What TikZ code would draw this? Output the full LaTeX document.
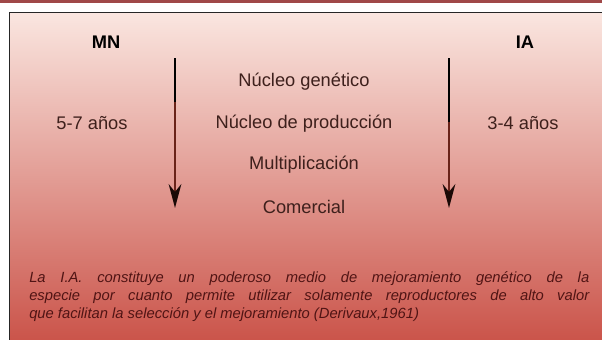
\documentclass[tikz,border=0pt]{standalone}
\usepackage{fontspec}
\setmainfont{Liberation Sans}
\usetikzlibrary{arrows.meta}

\definecolor{boxtop}{RGB}{250,230,224}
\definecolor{boxmid}{RGB}{232,152,142}
\definecolor{boxbot}{RGB}{202,82,72}
\definecolor{inkbrown}{RGB}{62,32,28}
\definecolor{arrowred}{RGB}{105,35,25}
\definecolor{noteink}{RGB}{80,20,20}
\definecolor{stripered}{RGB}{160,72,72}

\begin{document}
\begin{tikzpicture}[x=0.25mm,y=-0.25mm,
  stage/.style={text=inkbrown,font=\fontsize{13}{15}\selectfont},
  head/.style={text=black,font=\fontsize{13}{15}\selectfont\bfseries},
  flow/.style={line width=1.5pt,draw=arrowred,-{Stealth[length=17pt,width=9pt,color=black!75!arrowred]}},
  note/.style={text=noteink,font=\fontsize{10.5}{12.8}\selectfont\itshape,
    text width=140mm,align=justify,inner sep=0pt}]
\useasboundingbox (0,0) rectangle (602,340);
\fill[white] (0,0) rectangle (602,340);
\fill[stripered] (0,0) rectangle (602,2.5);

% shaded panel
\shade[top color=boxtop,middle color=boxmid,bottom color=boxbot] (9.5,12.5) rectangle (612,345);
\draw[line width=1.2pt,black!85] (9.5,345) -- (9.5,12.5) -- (612,12.5);

% column heads
\node[head] (mn) at (106,42) {MN};
\node[head] (ia) at (525,42) {IA};

% stages
\foreach \lbl/\yy [count=\k] in {Núcleo genético/82,Núcleo de producción/124,Multiplicación/165,Comercial/207}{
  \node[stage] (stage\k) at (304,\yy) {\lbl};
}
\node[stage] (mnyears) at (92,123) {5-7 años};
\node[stage] (iayears) at (523,123) {3-4 años};

% arrows
\coordinate (mntop) at (175,58);
\coordinate (mnend) at (175,208);
\coordinate (iatop) at (449,58);
\coordinate (iaend) at (449,208);
\draw[flow] (mntop) -- (mnend);
\draw[flow] (iatop) -- (iaend);
\draw[line width=1.5pt,black] (mntop) -- ++(0,44);
\draw[line width=1.5pt,black] (iatop) -- ++(0,64);

% note
\node[note,anchor=north west] (remark) at (29,271) {La I.A. constituye un poderoso medio de mejoramiento genético de la\linebreak especie por cuanto permite utilizar solamente reproductores de alto valor\linebreak que facilitan la selección y el mejoramiento (Derivaux,1961)};
\end{tikzpicture}
\end{document}
